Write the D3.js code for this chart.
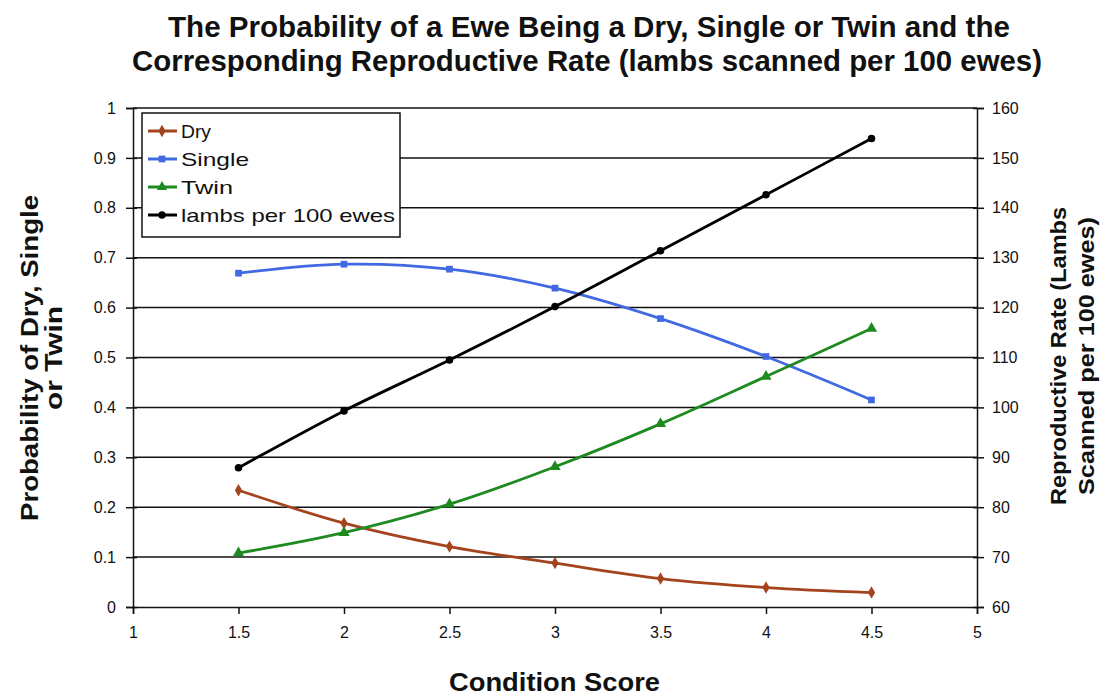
<!DOCTYPE html>
<html>
<head>
<meta charset="utf-8">
<script src="https://cdn.jsdelivr.net/npm/d3@7"></script>
<style>
  body { margin: 0; background: #fff; }
  svg { display: block; }
  .tick text { font-family: "Liberation Sans", Arial, sans-serif; font-size: 16px; fill: #111; }
  .bold { font-family: "Liberation Sans", Arial, sans-serif; font-weight: bold; fill: #111; }
</style>
</head>
<body>
<svg id="chart"></svg>
<script>
const conditionScores = [1.5, 2, 2.5, 3, 3.5, 4, 4.5];
const dryValues = [0.234, 0.168, 0.121, 0.088, 0.057, 0.039, 0.029];
const singleValues = [0.669, 0.687, 0.677, 0.639, 0.578, 0.502, 0.415];
const twinValues = [0.108, 0.149, 0.206, 0.281, 0.367, 0.462, 0.558];
const lambsValues = [87.9, 99.3, 109.5, 120.2, 131.4, 142.6, 153.9];

const xTicks = [1, 1.5, 2, 2.5, 3, 3.5, 4, 4.5, 5];
const leftTicks = [0, 0.1, 0.2, 0.3, 0.4, 0.5, 0.6, 0.7, 0.8, 0.9, 1];
const rightTicks = [60, 70, 80, 90, 100, 110, 120, 130, 140, 150, 160];

const titleLines = [
  "The Probability of a Ewe Being a Dry, Single or Twin and the",
  "Corresponding Reproductive Rate (lambs scanned per 100 ewes)"
];

const width = 1107, height = 695;
const margin = { top: 108, right: 130, bottom: 88, left: 133 };

const svg = d3.select("#chart")
  .attr("width", width)
  .attr("height", height);

const xScale = d3.scaleLinear()
  .domain([1, 5])
  .range([margin.left, width - margin.right]);

const yLeft = d3.scaleLinear()
  .domain([0, 1])
  .range([height - margin.bottom, margin.top]);

const yRight = d3.scaleLinear()
  .domain([60, 160])
  .range([height - margin.bottom, margin.top]);

// horizontal gridlines
svg.append("g")
  .selectAll("line")
  .data(leftTicks.slice(1))
  .join("line")
  .attr("x1", margin.left)
  .attr("x2", width - margin.right)
  .attr("y1", d => yLeft(d))
  .attr("y2", d => yLeft(d))
  .attr("stroke", "#111")
  .attr("stroke-width", 1.5);

// axes
const xAxis = d3.axisBottom(xScale).tickValues(xTicks).tickFormat(d3.format("")).tickSize(7).tickPadding(13);
const leftAxis = d3.axisLeft(yLeft).tickValues(leftTicks).tickFormat(d3.format("")).tickSize(7).tickPadding(10);
const rightAxis = d3.axisRight(yRight).tickValues(rightTicks).tickSize(7).tickPadding(8);

const xAxisGroup = svg.append("g")
  .attr("transform", `translate(0,${height - margin.bottom})`)
  .call(xAxis);

const leftAxisGroup = svg.append("g")
  .attr("transform", `translate(${margin.left},0)`)
  .call(leftAxis);

const rightAxisGroup = svg.append("g")
  .attr("transform", `translate(${width - margin.right},0)`)
  .call(rightAxis);

[xAxisGroup, leftAxisGroup, rightAxisGroup].forEach(g => {
  g.select(".domain").attr("stroke", "#111").attr("stroke-width", 1.5);
  g.selectAll(".tick line").attr("stroke", "#111").attr("stroke-width", 1.5);
});
// ticks cross the y axes
leftAxisGroup.selectAll(".tick line").attr("x1", 4);
rightAxisGroup.selectAll(".tick line").attr("x1", -4);

// series
const series = [
  { name: "Dry", values: dryValues, color: "#a4441c", scale: yLeft, marker: d3.symbolDiamond, len: 30 },
  { name: "Single", values: singleValues, color: "#4169e1", scale: yLeft, marker: d3.symbolSquare, len: 68 },
  { name: "Twin", values: twinValues, color: "#1f8a1f", scale: yLeft, marker: d3.symbolTriangle, len: 52 },
  { name: "lambs per 100 ewes", values: lambsValues, color: "#000", scale: yRight, marker: d3.symbolCircle, len: 214 }
];

series.forEach(s => {
  const pts = conditionScores.map((c, i) => [c, s.values[i]]);
  const line = d3.line()
    .x(d => xScale(d[0]))
    .y(d => s.scale(d[1]))
    .curve(d3.curveCatmullRom.alpha(0.5));

  svg.append("path")
    .datum(pts)
    .attr("fill", "none")
    .attr("stroke", s.color)
    .attr("stroke-width", 2.8)
    .attr("d", line);

  svg.append("g")
    .selectAll("path")
    .data(pts)
    .join("path")
    .attr("transform", d => `translate(${xScale(d[0])},${s.scale(d[1])})`)
    .attr("d", d3.symbol().type(s.marker).size(s.marker === d3.symbolTriangle ? 55 : 45))
    .attr("fill", s.color);
});

// legend
const legend = svg.append("g").attr("transform", "translate(142,113)");
legend.append("rect")
  .attr("width", 258)
  .attr("height", 124)
  .attr("fill", "#fff")
  .attr("stroke", "#111")
  .attr("stroke-width", 1.5);

series.forEach((s, i) => {
  const y = 18 + i * 28;
  legend.append("line")
    .attr("x1", 6).attr("x2", 35)
    .attr("y1", y).attr("y2", y)
    .attr("stroke", s.color)
    .attr("stroke-width", 3);
  legend.append("path")
    .attr("transform", `translate(20,${y})`)
    .attr("d", d3.symbol().type(s.marker).size(45))
    .attr("fill", s.color);
  legend.append("text")
    .attr("x", 39)
    .attr("y", y + 7)
    .attr("font-family", "'Liberation Sans', Arial, sans-serif")
    .attr("font-size", 19)
    .attr("fill", "#111")
    .attr("textLength", s.len)
    .attr("lengthAdjust", "spacingAndGlyphs")
    .text(s.name);
});

// title
const titleWidths = [842, 910];
svg.append("g")
  .selectAll("text")
  .data(titleLines)
  .join("text")
  .attr("class", "bold")
  .attr("x", (d, i) => i === 0 ? 168 : 132)
  .attr("y", (d, i) => 37 + i * 34)
  .attr("font-size", 29)
  .attr("textLength", (d, i) => titleWidths[i])
  .attr("lengthAdjust", "spacingAndGlyphs")
  .text(d => d);

// x axis label
svg.append("text")
  .attr("class", "bold")
  .attr("x", 449)
  .attr("y", 691)
  .attr("font-size", 25)
  .attr("textLength", 211)
  .attr("lengthAdjust", "spacingAndGlyphs")
  .text("Condition Score");

// left axis label
const leftLabel = svg.append("text")
  .attr("class", "bold")
  .attr("transform", "translate(0,358) rotate(-90)")
  .attr("text-anchor", "middle")
  .attr("font-size", 23);
leftLabel.append("tspan").attr("x", 0).attr("y", 38)
  .attr("textLength", 326).attr("lengthAdjust", "spacingAndGlyphs")
  .text("Probability of Dry, Single");
leftLabel.append("tspan").attr("x", 0).attr("y", 62)
  .attr("textLength", 104).attr("lengthAdjust", "spacingAndGlyphs")
  .text("or Twin");

// right axis label
const rightLabel = svg.append("text")
  .attr("class", "bold")
  .attr("transform", "translate(0,356) rotate(-90)")
  .attr("text-anchor", "middle")
  .attr("font-size", 22);
rightLabel.append("tspan").attr("x", 0).attr("y", 1066)
  .attr("textLength", 298).attr("lengthAdjust", "spacingAndGlyphs")
  .text("Reproductive Rate (Lambs");
rightLabel.append("tspan").attr("x", 0).attr("y", 1094)
  .attr("textLength", 278).attr("lengthAdjust", "spacingAndGlyphs")
  .text("Scanned per 100 ewes)");
</script>
</body>
</html>
